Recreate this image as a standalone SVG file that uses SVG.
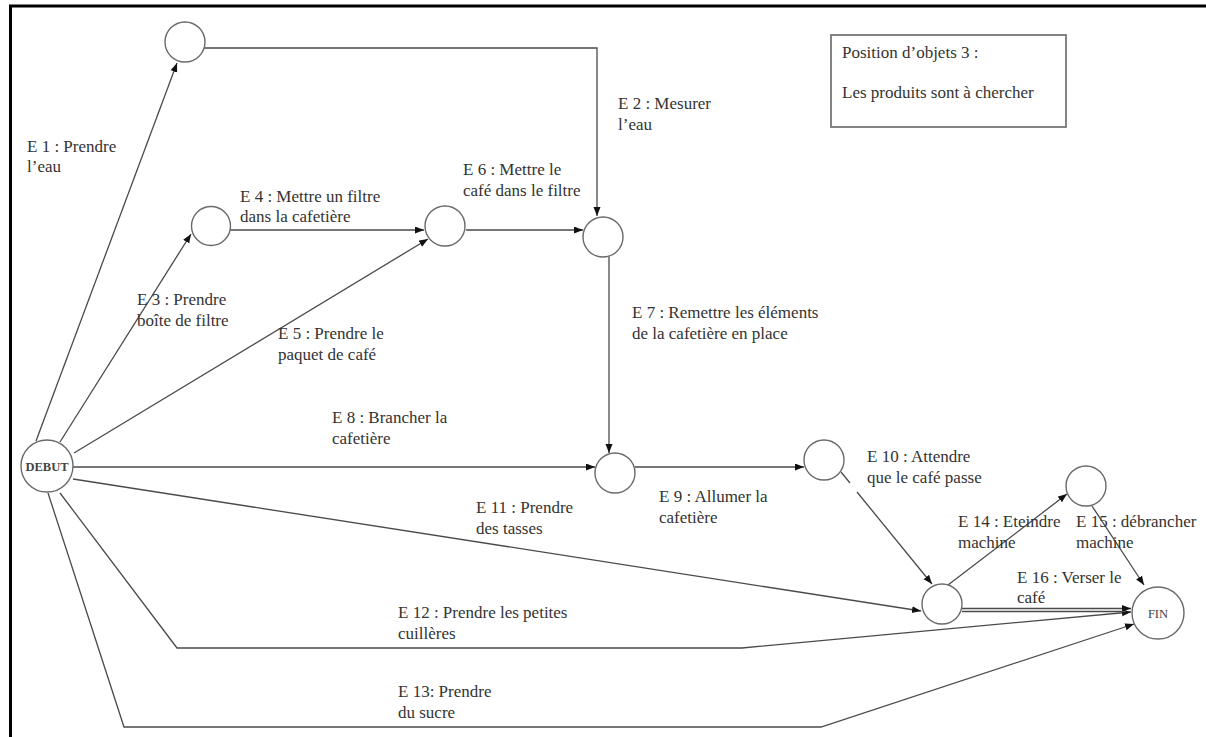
<svg xmlns="http://www.w3.org/2000/svg" width="1206" height="737" viewBox="0 0 1206 737">
<style>
.frame{stroke:#000;stroke-width:3;fill:none}
.node{fill:#fff;stroke:#6a6a6a;stroke-width:1.4}
.edge{fill:none;stroke:#4a4a4a;stroke-width:1.3}
.lbl{font-family:"Liberation Serif","Times New Roman",serif;font-size:17px;fill:#333}
.ntxt{font-family:"Liberation Serif","Times New Roman",serif;font-size:12.5px;fill:#444;text-anchor:middle}
.box{fill:#fff;stroke:#777;stroke-width:1.8}
</style>
<defs>
<marker id="arr" markerUnits="userSpaceOnUse" markerWidth="10" markerHeight="8" refX="9" refY="3.5" orient="auto">
<path d="M0,0 L9,3.5 L0,7 z" fill="#111"/>
</marker>
</defs>
<rect width="1206" height="737" fill="#fff"/>
<g id="frame">
<path class="frame" d="M10.5,737 V6 H1206"/>
</g>
<g id="note">
<rect class="box" x="831" y="35" width="235" height="92"/>
<text class="lbl" x="842" y="58">Position d’objets 3 :</text>
<text class="lbl" x="842" y="98">Les produits sont à chercher</text>
</g>
<g id="connectors">
<path id="e1" class="edge" marker-end="url(#arr)" d="M36,441 L177,63"/>
<path id="e2" class="edge" marker-end="url(#arr)" d="M204,48 H597 V216"/>
<path id="e3" class="edge" marker-end="url(#arr)" d="M60,442 L191,234"/>
<path id="e4" class="edge" marker-end="url(#arr)" d="M230,230 H424"/>
<path id="e5" class="edge" marker-end="url(#arr)" d="M74,453 L428,239"/>
<path id="e6" class="edge" marker-end="url(#arr)" d="M466,230 H583"/>
<path id="e7" class="edge" marker-end="url(#arr)" d="M609,257 V453"/>
<path id="e8" class="edge" marker-end="url(#arr)" d="M73,467 H595"/>
<path id="e9" class="edge" marker-end="url(#arr)" d="M635,467 H804"/>
<path id="e10" class="edge" marker-end="url(#arr)" d="M841,472 L850,483 M857,492 L932,584"/>
<path id="e11" class="edge" marker-end="url(#arr)" d="M73,479 L921,611"/>
<path id="e12" class="edge" marker-end="url(#arr)" d="M60,493 L177,648 H742 L1131,612"/>
<path id="e13" class="edge" marker-end="url(#arr)" d="M48,493 L124,727 H821 L1134,624"/>
<path id="e14" class="edge" marker-end="url(#arr)" d="M948,585 L1067,494"/>
<path id="e15" class="edge" marker-end="url(#arr)" d="M1092,506 L1144,585"/>
<path id="e16" class="edge" marker-end="url(#arr)" d="M962,608.5 H1131"/>
<path id="e16b" class="edge" d="M962,611.5 H1126"/>
</g>
<g id="edge-labels">
<text class="lbl" x="27" y="152">E 1 : Prendre<tspan x="27" dy="20">l’eau</tspan></text>
<text class="lbl" x="618" y="109">E 2 : Mesurer<tspan x="618" dy="20.5">l’eau</tspan></text>
<text class="lbl" x="137" y="305">E 3 : Prendre<tspan x="137" dy="20.5">boîte de filtre</tspan></text>
<text class="lbl" x="240" y="202">E 4 : Mettre un filtre<tspan x="240" dy="20">dans la cafetière</tspan></text>
<text class="lbl" x="278" y="339">E 5 : Prendre le<tspan x="278" dy="20.5">paquet de café</tspan></text>
<text class="lbl" x="463" y="175">E 6 : Mettre le<tspan x="463" dy="20.5">café dans le filtre</tspan></text>
<text class="lbl" x="632" y="318">E 7 : Remettre les éléments<tspan x="632" dy="20.5">de la cafetière en place</tspan></text>
<text class="lbl" x="332" y="423">E 8 : Brancher la<tspan x="332" dy="20.5">cafetière</tspan></text>
<text class="lbl" x="659" y="502">E 9 : Allumer la<tspan x="659" dy="20.5">cafetière</tspan></text>
<text class="lbl" x="867" y="462">E 10 : Attendre<tspan x="867" dy="20.5">que le café passe</tspan></text>
<text class="lbl" x="476" y="513">E 11 : Prendre<tspan x="476" dy="20.5">des tasses</tspan></text>
<text class="lbl" x="398" y="618">E 12 : Prendre les petites<tspan x="398" dy="20.5">cuillères</tspan></text>
<text class="lbl" x="398" y="697">E 13: Prendre<tspan x="398" dy="20.5">du sucre</tspan></text>
<text class="lbl" x="958" y="527">E 14 : Eteindre<tspan x="958" dy="20.5">machine</tspan></text>
<text class="lbl" x="1076" y="527">E 15 : débrancher<tspan x="1076" dy="20.5">machine</tspan></text>
<text class="lbl" x="1017" y="583">E 16 : Verser le<tspan x="1017" dy="20">café</tspan></text>
</g>
<g id="nodes">
<g id="debut"><circle class="node" cx="47" cy="466" r="26"/><text class="ntxt" x="47" y="470.5" font-weight="bold">DEBUT</text></g>
<g id="n1"><circle class="node" cx="185" cy="42" r="20"/></g>
<g id="n4"><circle class="node" cx="211" cy="226" r="19.5"/></g>
<g id="n6"><circle class="node" cx="445" cy="226" r="20"/></g>
<g id="n7"><circle class="node" cx="603" cy="237" r="20"/></g>
<g id="n9"><circle class="node" cx="615" cy="473" r="20"/></g>
<g id="n10"><circle class="node" cx="824" cy="460" r="20"/></g>
<g id="n14"><circle class="node" cx="1086" cy="486" r="20"/></g>
<g id="n16"><circle class="node" cx="942" cy="604" r="20"/></g>
<g id="fin"><circle class="node" cx="1158" cy="613" r="26"/><text class="ntxt" x="1158" y="617.5">FIN</text></g>
</g>
</svg>
